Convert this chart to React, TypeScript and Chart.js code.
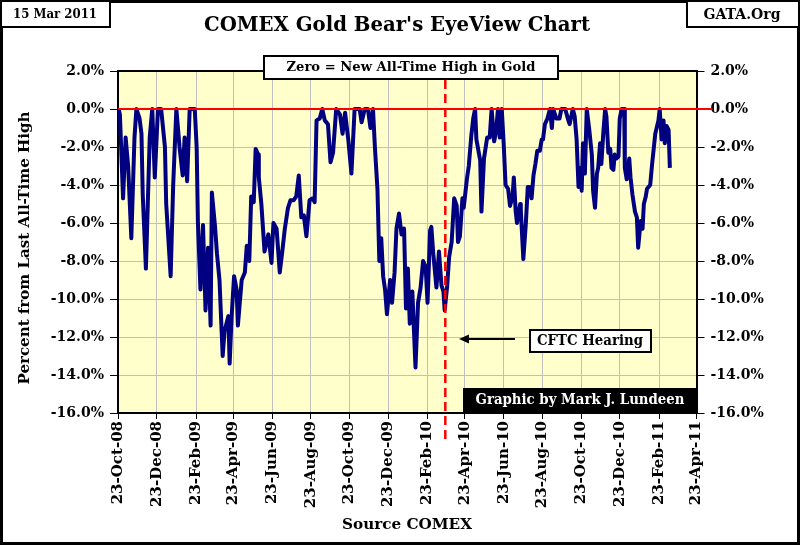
import { useEffect, useRef } from 'react';
import Chart from 'chart.js/auto';

// day 0 = 23-Oct-08
const dayOffsets = [
  1, 3, 8, 12, 16, 21, 26, 29, 34, 37, 39, 44, 50, 54, 58, 63, 68, 74, 76, 83,
  87, 92, 97, 102, 105, 109, 113, 121, 124, 126, 130, 134, 138, 142, 146, 148, 153, 156, 160, 165,
  168, 174, 176, 179, 183, 187, 189, 195, 200, 203, 207, 210, 214, 217, 221, 222, 226, 231, 237, 242,
  245, 250, 255, 259, 263, 268, 272, 277, 281, 285, 289, 293, 297, 302, 307, 310, 313, 318, 322, 326,
  331, 335, 339, 344, 350, 354, 358, 363, 368, 373, 381, 384, 389, 394, 398, 402, 405, 409, 412, 415,
  418, 421, 424, 429, 432, 436, 439, 443, 447, 451, 454, 457, 460, 464, 469, 473, 477, 481, 485, 488,
  492, 494, 497, 502, 506, 510, 513, 515, 519, 522, 526, 530, 534, 536, 539, 543, 545, 550, 553, 557,
  560, 563, 565, 571, 573, 577, 582, 586, 589, 593, 596, 599, 602, 605, 608, 611, 615, 618, 622, 624,
  627, 629, 634, 635, 639, 643, 646, 649, 652, 655, 658, 661, 665, 668, 670, 673, 677, 681, 684, 686,
  691, 696, 699, 705, 710, 712, 717, 720, 723, 726, 728, 731, 733, 736, 739, 743, 747, 749, 752, 755,
  757, 760, 762, 765, 768, 770, 773, 776, 778, 781, 783, 786, 789, 791, 794, 798, 799, 802, 806, 808,
  811, 815, 818, 820, 824, 827, 829, 832, 834, 839, 842, 847, 852, 854, 857, 860, 862, 865, 868, 870,
];

const pctOffHigh = [
  0, -0.3, -4.7, -1.5, -3.0, -6.8, -1.5, 0, -0.5, -1.3, -4.5, -8.4, -1.5, 0, -3.6, 0, 0, -2.0, -5.0, -8.8,
  -4.0, 0, -2.0, -3.5, -1.5, -3.8, 0, 0, -2.0, -6.0, -9.5, -6.1, -10.6, -7.3, -11.4, -4.4, -6.2, -7.6, -9.0, -13.0,
  -11.7, -10.9, -13.4, -11.0, -8.8, -9.5, -11.4, -9.0, -8.6, -7.2, -8.0, -4.6, -4.9, -2.1, -2.4, -3.6, -5.0, -7.5, -6.6, -8.1,
  -6.0, -6.3, -8.6, -7.5, -6.3, -5.2, -4.8, -4.8, -4.6, -3.5, -5.7, -5.6, -6.7, -4.8, -4.7, -4.9, -0.6, -0.5, 0, -0.6,
  -0.8, -2.8, -2.3, 0, -0.3, -1.3, -0.2, -1.6, -3.4, 0, 0, -0.7, 0, 0, -1.0, 0, -2.0, -4.2, -8.0, -6.8,
  -8.8, -9.5, -10.8, -9.0, -10.2, -8.6, -6.3, -5.5, -6.6, -6.3, -10.5, -8.4, -11.3, -9.6, -13.6, -10.2, -9.4, -8.0, -8.3, -10.2,
  -6.4, -6.2, -7.6, -9.4, -7.5, -9.3, -9.6, -10.6, -9.3, -7.8, -7.0, -4.7, -5.1, -7.0, -6.7, -4.7, -5.2, -3.7, -3.0, -1.4,
  -0.5, 0, -1.6, -2.7, -5.4, -2.6, -1.5, -1.5, 0, -1.7, -1.2, 0, -1.5, 0, -1.8, -4.0, -4.2, -5.1, -4.6, -3.6,
  -5.4, -6.0, -5.0, -5.3, -7.9, -6.0, -4.1, -4.1, -4.7, -3.5, -2.9, -2.2, -2.2, -1.6, -1.6, -0.8, -0.5, 0, -1.0, 0,
  -0.5, -0.5, 0, 0, -0.6, -0.8, 0, -0.4, -1.6, -4.1, -3.1, -4.3, -1.8, -3.4, 0, -1.1, -2.4, -4.3, -5.2, -3.4,
  -3.1, -1.8, -2.9, -1.3, 0, -0.4, -2.3, -2.1, -3.1, -3.2, -2.4, -2.6, -2.5, -0.5, 0, 0, -3.1, -3.7, -2.6, -3.6,
  -4.5, -5.4, -5.7, -7.3, -5.9, -6.3, -5.0, -4.6, -4.2, -4.0, -2.9, -1.3, -0.6, 0, -1.6, -0.6, -1.8, -0.9, -1.1, -3.1,
];

const tickLabels = [
  '23-Oct-08', '23-Dec-08', '23-Feb-09', '23-Apr-09', '23-Jun-09', '23-Aug-09', '23-Oct-09', '23-Dec-09',
  '23-Feb-10', '23-Apr-10', '23-Jun-10', '23-Aug-10', '23-Oct-10', '23-Dec-10', '23-Feb-11', '23-Apr-11',
];

const hearingDay = 516; // CFTC hearing, late March 2010

const MONTHS = ['Jan', 'Feb', 'Mar', 'Apr', 'May', 'Jun', 'Jul', 'Aug', 'Sep', 'Oct', 'Nov', 'Dec'];
const START = Date.UTC(2008, 9, 23);
const tickOffsets = tickLabels.map((s) => {
  const [d, m, y] = s.split('-');
  return Math.round((Date.UTC(2000 + Number(y), MONTHS.indexOf(m), Number(d)) - START) / 86400000);
});

const FONT = 'DejaVu Serif';

// draws centred bold text, squeezed to a given width if one is passed
function text(ctx: CanvasRenderingContext2D, s: string, x: number, y: number, size: number, width?: number, color = '#000', rot = 0) {
  ctx.save();
  ctx.font = `bold ${size}px "${FONT}"`;
  const k = width ? width / ctx.measureText(s).width : 1;
  ctx.translate(x, y);
  ctx.rotate(rot);
  ctx.scale(k, 1);
  ctx.textAlign = 'center';
  ctx.textBaseline = 'middle';
  ctx.fillStyle = color;
  ctx.fillText(s, 0, 0);
  ctx.restore();
}

function box(ctx: CanvasRenderingContext2D, x: number, y: number, w: number, h: number, fill = '#fff') {
  ctx.save();
  ctx.fillStyle = fill;
  ctx.fillRect(x, y, w, h);
  ctx.strokeStyle = '#000';
  ctx.lineWidth = 2;
  ctx.strokeRect(x + 1, y + 1, w - 2, h - 2);
  ctx.restore();
}

const decor = {
  id: 'decor',
  beforeDraw(chart: any) {
    const { ctx, chartArea: a } = chart;
    ctx.save();
    ctx.fillStyle = '#fff';
    ctx.fillRect(0, 0, chart.width, chart.height);
    ctx.fillStyle = '#ffffcc';
    ctx.fillRect(a.left, a.top, a.right - a.left, a.bottom - a.top);
    ctx.restore();
  },
  afterDatasetsDraw(chart: any) {
    const { ctx, chartArea: a, scales } = chart;
    const y0 = scales.y.getPixelForValue(0);
    const xh = scales.x.getPixelForValue(hearingDay);
    ctx.save();
    // zero line
    ctx.strokeStyle = '#ff0000';
    ctx.lineWidth = 2;
    ctx.beginPath();
    ctx.moveTo(a.left, y0);
    ctx.lineTo(a.right + 16, y0);
    ctx.stroke();
    // hearing marker
    ctx.lineWidth = 2.5;
    ctx.setLineDash([9, 5]);
    ctx.beginPath();
    ctx.moveTo(xh, 80);
    ctx.lineTo(xh, 440);
    ctx.stroke();
    ctx.setLineDash([]);
    // top border of plot
    ctx.strokeStyle = '#000';
    ctx.lineWidth = 2;
    ctx.beginPath();
    ctx.moveTo(a.left - 1, a.top);
    ctx.lineTo(a.right + 1, a.top);
    ctx.stroke();
    ctx.restore();
  },
  afterDraw(chart: any) {
    const { ctx, chartArea: a } = chart;
    // outer frame
    ctx.save();
    ctx.strokeStyle = '#000';
    ctx.lineWidth = 3;
    ctx.strokeRect(1.5, 1.5, chart.width - 3, chart.height - 3);
    ctx.restore();

    box(ctx, 0, 0, 111, 28);
    text(ctx, '15 Mar 2011', 55, 15, 13, 84);
    box(ctx, 686, 0, 114, 28);
    text(ctx, 'GATA.Org', 742, 15, 14, 77);

    text(ctx, "COMEX Gold Bear's EyeView Chart", 397, 26, 21, 386);

    box(ctx, 263, 55, 296, 25);
    text(ctx, 'Zero = New All-Time High in Gold', 411, 67.5, 13, 249);

    box(ctx, 529, 329, 123, 24);
    text(ctx, 'CFTC Hearing', 590, 341, 14, 106);

    // arrow to hearing line
    ctx.save();
    ctx.strokeStyle = '#000';
    ctx.fillStyle = '#000';
    ctx.lineWidth = 2;
    ctx.beginPath();
    ctx.moveTo(466, 339);
    ctx.lineTo(515, 339);
    ctx.stroke();
    ctx.beginPath();
    ctx.moveTo(459, 339);
    ctx.lineTo(469, 334.5);
    ctx.lineTo(469, 343.5);
    ctx.closePath();
    ctx.fill();
    ctx.restore();

    ctx.save();
    ctx.fillStyle = '#000';
    ctx.fillRect(463, 388, a.right - 463, a.bottom - 388);
    ctx.restore();
    text(ctx, 'Graphic by Mark J. Lundeen', 580, 400.5, 14, 209, '#fff');

    text(ctx, 'Percent from Last All-Time High', 25, 248, 15, 273, '#000', -Math.PI / 2);
    text(ctx, 'Source COMEX', 407, 525, 15, 130);
  },
};

const tickFont = { family: FONT, size: 14, weight: 'bold' as const };
const pct = (v: any) => `${Number(v).toFixed(1)}%`;

export default function App() {
  const ref = useRef<HTMLCanvasElement | null>(null);

  useEffect(() => {
    document.body.style.margin = '0';
    if (!ref.current) return;
    const chart = new Chart(ref.current, {
      type: 'line',
      data: {
        datasets: [{
          data: dayOffsets.map((d, i) => ({ x: d, y: pctOffHigh[i] })),
          borderColor: '#000080',
          borderWidth: 4,
          borderJoinStyle: 'round',
          pointRadius: 0,
          tension: 0,
          yAxisID: 'y',
        }],
      },
      options: {
        animation: false,
        responsive: false,
        layout: { padding: { top: 71, left: 0, right: 0, bottom: 0 } },
        plugins: { legend: { display: false }, tooltip: { enabled: false } },
        scales: {
          x: {
            type: 'linear',
            min: 0,
            max: 912,
            afterBuildTicks: (s: any) => { s.ticks = tickOffsets.map((value) => ({ value })); },
            afterFit: (s: any) => { s.height = 132; },
            ticks: {
              autoSkip: false,
              maxRotation: 90,
              minRotation: 90,
              padding: 2,
              color: '#000',
              font: { family: FONT, size: 15, weight: 'bold' },
              callback: (v: any) => tickLabels[tickOffsets.indexOf(v)] ?? '',
            },
            grid: { color: '#c0c0c0', tickColor: '#000', tickLength: 6 },
            border: { color: '#000', width: 2 },
          },
          y: {
            position: 'left',
            min: -16,
            max: 2,
            afterFit: (s: any) => { s.width = 118; },
            ticks: { stepSize: 2, padding: 6, color: '#000', font: tickFont, callback: pct },
            grid: { color: '#c0c0c0', tickColor: '#000', tickLength: 8 },
            border: { color: '#000', width: 2 },
          },
          y2: {
            position: 'right',
            min: -16,
            max: 2,
            afterFit: (s: any) => { s.width = 103.5; },
            ticks: { stepSize: 2, padding: 6, color: '#000', font: tickFont, callback: pct },
            grid: { drawOnChartArea: false, tickColor: '#000', tickLength: 8 },
            border: { color: '#000', width: 2 },
          },
        },
      },
      plugins: [decor],
    });
    return () => chart.destroy();
  }, []);

  return <canvas ref={ref} width={800} height={545} style={{ display: 'block', width: 800, height: 545 }} />;
}
